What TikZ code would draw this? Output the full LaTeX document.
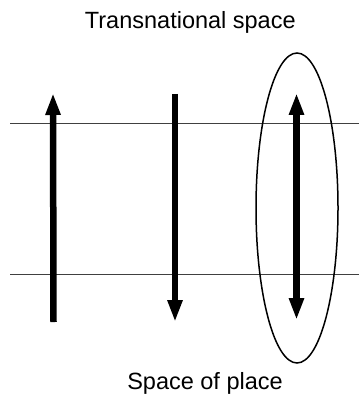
\documentclass[tikz,border=0pt]{standalone}
\usepackage{fontspec}
\setmainfont{Liberation Sans}
\usetikzlibrary{arrows.meta,shapes.geometric}
\begin{document}
\begin{tikzpicture}[x=1pt,y=-1pt,
  level/.style={draw=black!75,line width=1pt},
  flow/.style={line width=6.5pt,-{Triangle[length=22pt,width=14pt]}},
  label/.style={font=\fontsize{23.5}{27}\selectfont,anchor=base,inner sep=0pt}]
\useasboundingbox (0,0) rectangle (359,395);
\node[label] (top) at (190.3,28.5) {Transnational space};
\node[label] (bot) at (205,389) {Space of place};
\coordinate (l1a) at (10,124);
\coordinate (l1b) at (359,124);
\coordinate (l2a) at (10,274);
\coordinate (l2b) at (359,274);
\draw[level] (l1a) -- (l1b);
\draw[level] (l2a) -- (l2b);
\coordinate (a1s) at (53.5,322);
\coordinate (a1e) at (53,93);
\coordinate (a2s) at (175,94);
\coordinate (a2e) at (175,322);
\coordinate (a3s) at (296.5,320);
\coordinate (a3e) at (296.5,93);
\draw[flow] (a1s) -- (a1e);
\draw[flow] (a2s) -- (a2e);
\draw[flow,{Triangle[length=22pt,width=14pt]}-{Triangle[length=22pt,width=14pt]}] (a3s) -- (a3e);
\node[draw,line width=1.5pt,ellipse,minimum width=82pt,minimum height=310pt,inner sep=0pt] (ring) at (297,208) {};
\end{tikzpicture}
\end{document}
